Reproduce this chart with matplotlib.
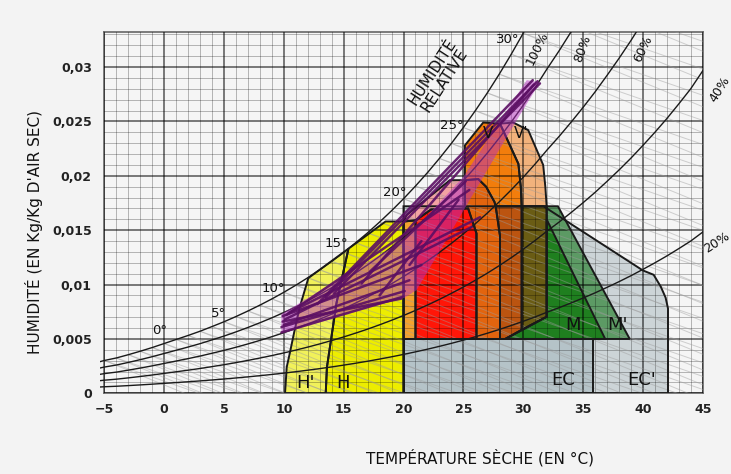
import numpy as np
import matplotlib.pyplot as plt
from matplotlib.patches import Polygon, Rectangle

plt.rcParams['font.family'] = ['DejaVu Sans']

# saturation humidity ratio (kg/kg dry air) along the 100 % curve
sat_temp = [-5.4] + list(range(-5, 46))
sat_w = [0.00290, 0.00302, 0.00325, 0.00355, 0.00387, 0.00421, 0.00458,
         0.00495, 0.00532, 0.00571, 0.00614, 0.00658, 0.00706, 0.00757,
         0.00811, 0.00868, 0.00929, 0.00994, 0.01063, 0.01136, 0.01214,
         0.01296, 0.01384, 0.01476, 0.01575, 0.01679, 0.01789, 0.01906,
         0.02029, 0.02160, 0.02298, 0.02444, 0.02599, 0.02762, 0.02935,
         0.03118, 0.03311, 0.03515, 0.03731, 0.03937, 0.04155, 0.04381,
         0.04618, 0.04871, 0.05132, 0.05406, 0.05698, 0.05999, 0.06315,
         0.06653, 0.07002, 0.07413]
rh_levels = [1.0, 0.8, 0.6, 0.4, 0.2]

# wet-bulb temperature labels along the saturation curve
wb_labels = ['0°', '5°', '10°', '15°', '20°', '25°', '30°']
wb_label_t = [-0.35, 4.5, 9.1, 14.35, 19.3, 24.05, 28.75]
wb_label_w = [0.0058, 0.0073, 0.0096, 0.0138, 0.0185, 0.0246, 0.0325]

rh_labels = ['100%', '80%', '60%', '40%', '20%']
rh_label_t = [31.2, 35.0, 40.0, 46.4, 46.2]
rh_label_w = [0.0317, 0.0317, 0.0317, 0.0280, 0.0139]
rh_label_rot = [64, 70, 64, 58, 33]

# bioclimatic zones (dry-bulb °C, humidity kg/kg)
zone_ec2 = [(20, 0), (42.1, 0), (42.1, 0.0078), (41.9, 0.0088), (41.5, 0.0098),
            (40.9, 0.0109), (40.0, 0.0113), (31.7, 0.0172), (20, 0.0172)]
zone_ec = [(20, 0), (35.85, 0), (35.85, 0.005), (20, 0.005)]
zone_m2 = [(28.5, 0.005), (38.9, 0.005), (32.9, 0.0172), (31.96, 0.0172),
           (31.96, 0.00704)]
zone_m = [(28.5, 0.005), (36.85, 0.005), (31.96, 0.0160), (31.96, 0.00704)]
zone_olive = [(29.87, 0.00585), (31.96, 0.00704), (31.96, 0.0172), (29.87, 0.0172)]
zone_brown = [(28.06, 0.005), (28.5, 0.005), (29.87, 0.00585), (29.87, 0.0172),
              (27.7, 0.0172), (28.06, 0.0145)]
zone_orange_dk = [(26.1, 0.005), (28.06, 0.005), (28.06, 0.0145), (27.7, 0.0172),
                  (27.6, 0.0176), (26.9, 0.0190), (26.25, 0.0197), (25.13, 0.0196),
                  (25.13, 0.0170), (25.4, 0.0170), (26.1, 0.0147)]
zone_red = [(21.0, 0.005), (26.1, 0.005), (26.1, 0.0147), (25.4, 0.0170),
            (22.3, 0.0169), (21.0, 0.0159)]
zone_strip = [(20.0, 0.005), (21.0, 0.005), (21.0, 0.0159), (20.0, 0.0158)]
zone_pink = [(20.0, 0.0158), (21.0, 0.0159), (22.3, 0.0169), (25.13, 0.0170),
             (25.13, 0.0196), (23.88, 0.0196), (20.26, 0.0164)]
zone_v = [(25.13, 0.0196), (26.25, 0.0197), (26.9, 0.0190), (27.6, 0.0176),
          (27.7, 0.0172), (29.87, 0.0172), (29.8, 0.0190), (29.6, 0.0211),
          (28.06, 0.0248), (26.66, 0.0249), (25.13, 0.0228)]
zone_v2 = [(28.06, 0.0248), (29.6, 0.0211), (29.8, 0.0190), (29.87, 0.0172),
           (31.96, 0.0172), (31.85, 0.0190), (31.67, 0.0210), (30.42, 0.0242),
           (29.17, 0.0249)]
zone_h2 = [(10.1, 0), (10.24, 0.0024), (10.5, 0.0037), (10.9, 0.0058),
           (11.35, 0.0080), (12.05, 0.0106), (15.4, 0.0133), (14.4, 0.0083),
           (13.9, 0.0046), (13.6, 0.0024), (13.5, 0)]
zone_h = [(13.5, 0), (13.6, 0.0024), (13.9, 0.0046), (14.4, 0.0083),
          (15.4, 0.0133), (18.5, 0.0158), (20.0, 0.0158), (20.0, 0)]

zones = [
    (zone_ec2, '#ccd4d7'), (zone_ec, '#b5c3c8'), (zone_m2, '#5c9a64'),
    (zone_m, '#1f7f1f'), (zone_olive, '#6a5c14'), (zone_brown, '#bb5410'),
    (zone_orange_dk, '#e2640e'), (zone_red, '#ff1608'), (zone_strip, '#f3a22e'),
    (zone_pink, '#f2a3a3'), (zone_v, '#f27d0c'), (zone_v2, '#f2b27c'),
    (zone_h2, '#f1f15a'), (zone_h, '#eded00'),
]

zone_names = ["H'", 'H', 'EC', "EC'", 'M', "M'", 'V', "V'"]
zone_name_t = [11.85, 14.95, 33.3, 39.9, 34.15, 37.9, 27.1, 29.8]
zone_name_w = [0.00095, 0.00095, 0.00122, 0.00122, 0.00627, 0.00627, 0.0239, 0.0239]
zone_name_size = [13, 13, 13, 13, 13, 13, 11, 11]

# monthly climate envelope and monthly lines (min -> max)
envelope = [(9.8, 0.0055), (9.8, 0.0073), (20.1, 0.0141), (25.0, 0.0199),
            (30.3, 0.0288), (31.4, 0.0286), (29.45, 0.0251), (21.1, 0.0095),
            (20.1, 0.0088)]
month_t_lo = [9.8, 9.8, 9.9, 9.9, 10.0, 10.2, 10.1, 10.4, 12.8, 13.5, 14.2, 16.5, 18.0, 17.2, 20.5]
month_w_lo = [0.0056, 0.0061, 0.0066, 0.0071, 0.0063, 0.0072, 0.0068, 0.0074,
              0.0082, 0.0088, 0.0092, 0.0101, 0.0090, 0.0112, 0.0118]
month_t_hi = [20.0, 20.1, 19.8, 21.5, 20.5, 25.5, 25.7, 26.4, 30.8, 31.2, 31.4, 30.9, 21.5, 25.2, 24.6]
month_w_hi = [0.0089, 0.0094, 0.0087, 0.0118, 0.0104, 0.0187, 0.0153, 0.0162,
              0.0288, 0.0287, 0.0285, 0.0284, 0.0140, 0.0195, 0.0178]

x_ticks = list(range(-5, 50, 5))
y_ticks = [0, 0.005, 0.01, 0.015, 0.02, 0.025, 0.03]
y_tick_labels = ['0', '0,005', '0,01', '0,015', '0,02', '0,025', '0,03']

fig = plt.figure(figsize=(7.31, 4.74), dpi=100)
fig.patch.set_facecolor('#f3f3f3')
ax = fig.add_axes([0.1427, 0.1702, 0.8186, 0.7617])
ax.set_facecolor('#f5f5f5')
ax.set_xlim(-5, 45)
ax.set_ylim(0, 0.0332)

# grid drawn over the zones so it shows through
ax.set_axisbelow(False)
ax.set_xticks(x_ticks)
ax.set_xticks(np.arange(-5, 46, 1), minor=True)
ax.set_yticks(y_ticks)
ax.set_yticks(np.arange(0, 0.0332, 0.001), minor=True)
ax.set_yticklabels(y_tick_labels)
ax.grid(which='minor', color='black', alpha=0.27, lw=0.7)
ax.grid(which='major', color='black', alpha=0.65, lw=1.1)
ax.tick_params(which='both', length=0)
ax.tick_params(axis='x', pad=7)
ax.tick_params(axis='y', pad=9)
for lbl in ax.get_xticklabels() + ax.get_yticklabels():
    lbl.set_fontweight('bold')
    lbl.set_fontsize(9)
    lbl.set_color('#222222')
for s in ax.spines.values():
    s.set_color('#666666')
    s.set_linewidth(1.2)

for pts, col in zones:
    ax.add_patch(Polygon(pts, closed=True, facecolor=col, edgecolor='none', zorder=1))
    ax.add_patch(Polygon(pts, closed=True, fill=False, edgecolor='#1a1a1a',
                         lw=1.4, zorder=2.7))

# wet-bulb and enthalpy lines starting on the saturation curve
for t, w in zip(sat_temp[1:], sat_w[1:]):
    if t > 32:
        break
    for slope in (0.00045, 0.00038):
        ax.plot([t, t + w / slope], [w, 0], color='#9c9c9c', lw=0.7,
                alpha=0.45, zorder=2.6)

# relative humidity curves, allowed to run a little past the left border
clip = Rectangle((-0.008, 0), 1.008, 1, transform=ax.transAxes)
sat = np.array(sat_w)
for rh in rh_levels:
    ln, = ax.plot(sat_temp, rh * sat, color='#1a1a1a', lw=1.0, zorder=3)
    ln.set_clip_path(clip)

ax.add_patch(Polygon(envelope, closed=True, facecolor='#b52fbf', alpha=0.5,
                     edgecolor='none', zorder=3.5))
for t0, w0, t1, w1 in zip(month_t_lo, month_w_lo, month_t_hi, month_w_hi):
    ax.plot([t0, t1], [w0, w1], color='#5b0f63', lw=1.8, alpha=0.9,
            solid_capstyle='round', zorder=4)

for s, t, w in zip(wb_labels, wb_label_t, wb_label_w):
    ax.text(t, w, s, fontsize=9.5, ha='center', va='center', color='#111111', zorder=6)
for s, t, w, r in zip(rh_labels, rh_label_t, rh_label_w, rh_label_rot):
    ax.text(t, w, s, fontsize=9, ha='center', va='center', rotation=r,
            rotation_mode='anchor', color='#111111', clip_on=False, zorder=6)
for s, t, w, fs in zip(zone_names, zone_name_t, zone_name_w, zone_name_size):
    ax.text(t, w, s, fontsize=fs, ha='center', va='center', color='#111111', zorder=6)

ax.text(22.9, 0.0292, 'HUMIDITÉ\nRELATIVE', fontsize=11, ha='center', va='center',
        rotation=57, rotation_mode='anchor', linespacing=1.0, color='#111111', zorder=6)

fig.text(0.657, 0.034, 'TEMPÉRATURE SÈCHE (EN °C)', fontsize=11, ha='center',
         va='center', color='#111111')
fig.text(0.0465, 0.511, "HUMIDITÉ (EN Kg/Kg D'AIR SEC)", fontsize=11, ha='center',
         va='center', rotation=90, color='#111111')

fig.savefig('out.png', dpi=100, facecolor=fig.get_facecolor())
